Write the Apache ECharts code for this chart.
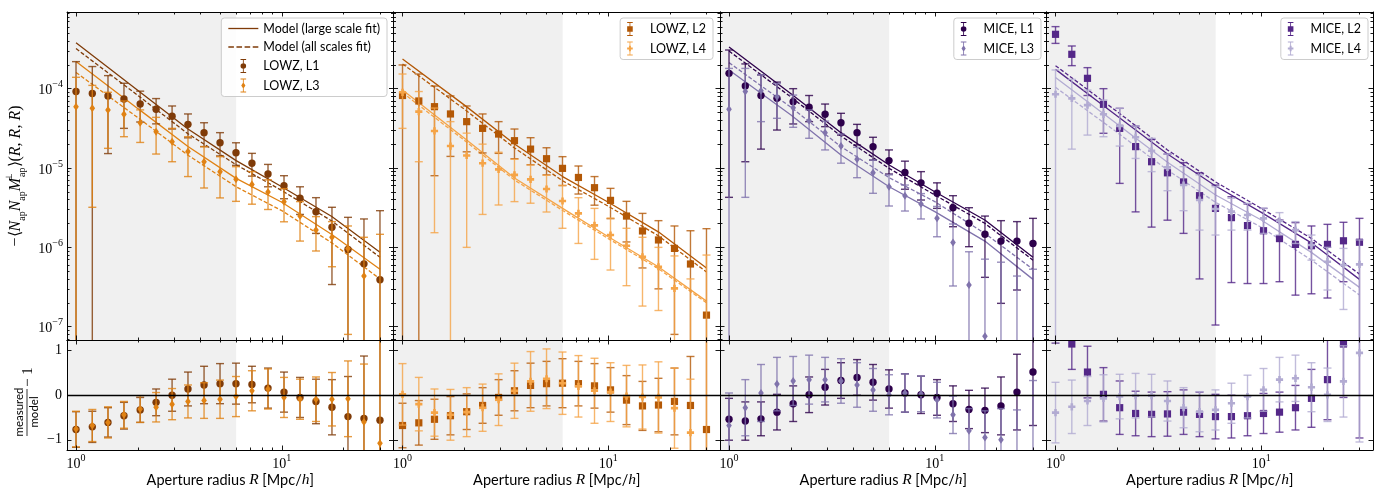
<!DOCTYPE html>
<html>
<head>
<meta charset="utf-8">
<script src="https://cdn.jsdelivr.net/npm/echarts@6/dist/echarts.min.js"></script>
<style>
  html, body { margin: 0; padding: 0; background: #fff; }
  #chart { width: 1385px; height: 492px; }
</style>
</head>
<body>
<div id="chart"></div>
<script>
// aperture radii (Mpc/h) of the measurements, and where the model curves are read
const radius = [1.00, 1.20, 1.43, 1.71, 2.05, 2.45, 2.93, 3.50, 4.19, 5.01, 5.99, 7.16, 8.57, 10.25, 12.26, 14.66, 17.53, 20.97, 25.08, 30.0];
const modelRadius = [1, 2, 3.5, 6, 10, 17.5, 30];

// LOWZ L1
const lowzL1 = [9.2e-5, 8.7e-5, 8.1e-5, 7.4e-5, 6.4e-5, 5.5e-5, 4.5e-5, 3.55e-5, 2.79e-5, 2.08e-5, 1.56e-5, 1.15e-5, 8.4e-6, 5.98e-6, 4.15e-6, 2.82e-6, 1.79e-6, 9.4e-7, 6.2e-7, 3.9e-7];
const lowzL1Hi = [2.19e-4, 1.9e-4, 1.46e-4, 1.17e-4, 9.3e-5, 7.5e-5, 6.05e-5, 4.8e-5, 3.72e-5, 2.79e-5, 2.08e-5, 1.53e-5, 1.11e-5, 8.0e-6, 5.8e-6, 4.23e-6, 3.2e-6, 2.39e-6, 2.28e-6, 2.9e-6];
const lowzL1Lo = [null, null, 1.52e-5, 3.16e-5, 3.8e-5, 3.6e-5, 3.1e-5, 2.4e-5, 1.86e-5, 1.42e-5, 1.08e-5, 7.9e-6, 5.8e-6, 4.1e-6, 2.6e-6, 1.5e-6, 3.4e-7, null, null, null];
const lowzL1Ratio = [-0.77, -0.71, -0.61, -0.46, -0.33, -0.16, 0.0, 0.14, 0.23, 0.26, 0.26, 0.24, 0.16, 0.07, -0.05, -0.14, -0.27, -0.48, -0.52, -0.56];
const lowzL1RatioErr = [0.4, 0.35, 0.33, 0.3, 0.28, 0.3, 0.36, 0.38, 0.42, 0.45, 0.46, 0.41, 0.45, 0.45, 0.45, 0.5, 0.62, 0.9, 1.4, 2.0];
const lowzL1ModelLarge = [3.8e-4, 9.5e-5, 3.1e-5, 1.24e-5, 5.8e-6, 2.45e-6, 8.7e-7];
const lowzL1ModelAll = [3.2e-4, 8.2e-5, 2.7e-5, 1.1e-5, 5.2e-6, 2.15e-6, 7.5e-7];

// LOWZ L3
const lowzL3 = [5.9e-5, 5.65e-5, 5.4e-5, 4.75e-5, 3.72e-5, 2.87e-5, 2.15e-5, 1.61e-5, 1.2e-5, 9.0e-6, 7.2e-6, 6.2e-6, 5.0e-6, 3.77e-6, 2.48e-6, 1.65e-6, 1.34e-6, 9.7e-7, 4.35e-7, null];
const lowzL3Hi = [1.39e-4, 1.1e-4, 9.0e-5, 7.0e-5, 5.4e-5, 4.35e-5, 3.16e-5, 2.48e-5, 1.86e-5, 1.39e-5, 1.04e-5, 9.0e-6, 7.1e-6, 5.5e-6, 3.77e-6, 2.44e-6, 2.11e-6, 1.86e-6, 1.34e-6, 1.46e-6];
const lowzL3Lo = [null, 3.2e-6, 1.77e-5, 2.48e-5, 2.1e-5, 1.5e-5, 1.2e-5, 7.8e-6, 5.6e-6, 4.2e-6, 3.8e-6, 3.5e-6, 3.0e-6, 2.1e-6, 1.2e-6, 9e-7, 5.7e-7, 8e-8, null, null];
const lowzL3Ratio = [-0.76, -0.68, -0.61, -0.44, -0.31, -0.27, -0.2, -0.14, -0.12, -0.09, -0.03, 0.1, 0.14, -0.05, -0.09, -0.09, -0.09, -0.08, -0.6, -1.08];
const lowzL3RatioErr = [0.4, 0.36, 0.35, 0.3, 0.3, 0.33, 0.35, 0.37, 0.4, 0.43, 0.45, 0.45, 0.45, 0.45, 0.45, 0.5, 0.6, 0.85, 1.3, 2.9];
const lowzL3ModelLarge = [2.2e-4, 5.6e-5, 1.87e-5, 7.4e-6, 3.7e-6, 1.45e-6, 5.3e-7];
const lowzL3ModelAll = [1.6e-4, 4.3e-5, 1.45e-5, 5.8e-6, 2.9e-6, 1.14e-6, 4.0e-7];

// LOWZ L2
const lowzL2 = [8.2e-5, 7.0e-5, 5.93e-5, 4.8e-5, 3.84e-5, 3.16e-5, 2.68e-5, 2.21e-5, 1.73e-5, 1.31e-5, 9.9e-6, 7.6e-6, 5.65e-6, 3.91e-6, 2.48e-6, 1.61e-6, 1.24e-6, 9.7e-7, 6.17e-7, 1.4e-7];
const lowzL2Hi = [1.99e-4, 1.53e-4, 1.08e-4, 8.1e-5, 6.05e-5, 4.8e-5, 3.84e-5, 3.1e-5, 2.41e-5, 1.8e-5, 1.39e-5, 1.06e-5, 7.8e-6, 5.54e-6, 3.8e-6, 2.68e-6, 2.17e-6, 1.86e-6, 1.62e-6, 1.72e-6];
const lowzL2Lo = [null, null, 8e-6, 1.4e-5, 1.6e-5, 1.55e-5, 1.53e-5, 1.31e-5, 1.1e-5, 8.2e-6, 6e-6, 4.7e-6, 3.4e-6, 2.3e-6, 1.17e-6, 5.5e-7, 3e-7, 8e-8, null, null];
const lowzL2Ratio = [-0.68, -0.62, -0.54, -0.46, -0.37, -0.23, -0.05, 0.1, 0.22, 0.26, 0.27, 0.26, 0.21, 0.12, -0.11, -0.24, -0.22, -0.14, -0.23, -0.77];
const lowzL2RatioErr = [0.5, 0.5, 0.45, 0.43, 0.4, 0.4, 0.4, 0.45, 0.5, 0.5, 0.55, 0.5, 0.5, 0.5, 0.55, 0.55, 0.6, 0.75, 1.1, 2.8];
const lowzL2ModelLarge = [2.37e-4, 6.2e-5, 2.01e-5, 7.8e-6, 3.7e-6, 1.57e-6, 5.5e-7];
const lowzL2ModelAll = [2.05e-4, 5.5e-5, 1.79e-5, 6.9e-6, 3.3e-6, 1.4e-6, 4.9e-7];

// LOWZ L4
const lowzL4 = [9.0e-5, 5.13e-5, 2.93e-5, 1.89e-5, 1.44e-5, 1.15e-5, 9.6e-6, 8.2e-6, 7.2e-6, 5.44e-6, 3.84e-6, 2.68e-6, 1.89e-6, 1.43e-6, 1.05e-6, 7.6e-7, 5.7e-7, 3.04e-7, 4.5e-8, null];
const lowzL4Hi = [1.53e-4, 9.2e-5, 5.7e-5, 3.84e-5, 2.75e-5, 2.0e-5, 1.58e-5, 1.29e-5, 1.09e-5, 8.1e-6, 6.05e-6, 4.23e-6, 3.1e-6, 2.34e-6, 1.74e-6, 1.34e-6, 1.0e-6, 7.8e-7, 4.0e-7, 8.0e-7];
const lowzL4Lo = [3.16e-5, 1.2e-5, 1.53e-6, null, 1.0e-6, 2.6e-6, 3.42e-6, 3.77e-6, 3.6e-6, 2.79e-6, 1.74e-6, 1.12e-6, 7.06e-7, 5.18e-7, 3.29e-7, 1.82e-7, 1.6e-7, null, null, null];
const lowzL4Ratio = [0.02, -0.2, -0.39, -0.44, -0.38, -0.28, -0.1, 0.1, 0.31, 0.37, 0.27, 0.2, 0.1, 0.07, -0.02, -0.04, -0.05, -0.29, -0.84, -1.6];
const lowzL4RatioErr = [0.69, 0.6, 0.53, 0.57, 0.55, 0.53, 0.58, 0.62, 0.67, 0.67, 0.7, 0.69, 0.73, 0.66, 0.69, 0.72, 0.8, 0.9, 1.2, 3.0];
const lowzL4ModelLarge = [9.6e-5, 2.37e-5, 7.5e-6, 3.1e-6, 1.36e-6, 5.7e-7, 2.1e-7];
const lowzL4ModelAll = [8.9e-5, 2.23e-5, 7.06e-6, 2.92e-6, 1.29e-6, 5.4e-7, 2.0e-7];

// MICE L1
const miceL1 = [1.56e-4, 1.08e-4, 8.2e-5, 7.55e-5, 6.86e-5, 5.82e-5, 4.75e-5, 3.72e-5, 2.79e-5, 1.86e-5, 1.24e-5, 8.8e-6, 6.5e-6, 4.8e-6, 3.16e-6, 2.01e-6, 1.46e-6, 1.2e-6, 1.2e-6, 1.12e-6];
const miceL1Hi = [3.07e-4, 2.05e-4, 1.49e-4, 1.21e-4, 1.0e-4, 8.2e-5, 6.4e-5, 4.89e-5, 3.55e-5, 2.44e-5, 1.69e-5, 1.22e-5, 9.0e-6, 6.5e-6, 4.48e-6, 3.16e-6, 2.48e-6, 2.17e-6, 2.11e-6, 2.32e-6];
const miceL1Lo = [4.27e-6, 1.2e-5, 1.73e-5, 3.01e-5, 3.59e-5, 3.84e-5, 3.32e-5, 2.6e-5, 1.95e-5, 1.26e-5, 8.4e-6, 5.4e-6, 3.95e-6, 3.1e-6, 1.82e-6, 1.02e-6, 4.19e-7, 1.97e-7, 2.9e-7, null];
const miceL1Ratio = [-0.54, -0.58, -0.53, -0.38, -0.19, 0.01, 0.18, 0.33, 0.4, 0.29, 0.14, 0.05, 0.01, -0.05, -0.19, -0.32, -0.34, -0.24, 0.07, 0.52];
const miceL1RatioErr = [0.47, 0.43, 0.38, 0.4, 0.4, 0.4, 0.4, 0.4, 0.4, 0.4, 0.43, 0.43, 0.42, 0.4, 0.4, 0.43, 0.5, 0.65, 0.85, 1.2];
const miceL1ModelLarge = [3.35e-4, 8.65e-5, 2.79e-5, 1.09e-5, 5.03e-6, 2.21e-6, 7.5e-7];
const miceL1ModelAll = [2.98e-4, 7.85e-5, 2.53e-5, 9.9e-6, 4.57e-6, 2.01e-6, 6.9e-7];

// MICE L3
const miceL3 = [5.5e-5, 9.2e-5, 9.4e-5, 7.9e-5, 5.76e-5, 3.95e-5, 2.79e-5, 1.89e-5, 1.29e-5, 8.7e-6, 5.8e-6, 4.48e-6, 3.52e-6, 2.32e-6, 1.15e-6, 3.35e-7, 7.6e-8, null, null, null];
const miceL3Hi = [1.8e-4, 1.8e-4, 1.5e-4, 1.16e-4, 8.3e-5, 5.4e-5, 3.9e-5, 2.68e-5, 1.82e-5, 1.26e-5, 8.2e-6, 6.1e-6, 4.76e-6, 3.28e-6, 1.97e-6, 8.8e-7, 7.1e-7, 6.5e-7, 4.35e-7, 5.3e-7];
const miceL3Lo = [null, 4.27e-6, 3.84e-5, 4.23e-5, 3.26e-5, 2.37e-5, 1.69e-5, 1.15e-5, 7.55e-6, 4.8e-6, 3.32e-6, 2.87e-6, 2.28e-6, 1.36e-6, 3.26e-7, null, null, null, null, null];
const miceL3Ratio = [-0.68, -0.28, 0.05, 0.25, 0.32, 0.35, 0.35, 0.32, 0.23, 0.12, 0.01, 0.05, 0.03, -0.11, -0.44, -0.8, -0.95, -1.0, -1.4, -1.5];
const miceL3RatioErr = [0.73, 0.63, 0.64, 0.6, 0.55, 0.55, 0.5, 0.5, 0.5, 0.48, 0.45, 0.43, 0.4, 0.4, 0.42, 0.5, 0.6, 0.7, 1.07, 1.83];
const miceL3ModelLarge = [1.72e-4, 4.66e-5, 1.46e-5, 5.8e-6, 2.82e-6, 1.2e-6, 3.95e-7];
const miceL3ModelAll = [2.13e-4, 5.82e-5, 1.86e-5, 7.55e-6, 3.77e-6, 1.5e-6, 5.3e-7];

// MICE L2
const miceL2 = [4.84e-4, 2.71e-4, 1.35e-4, 6.35e-5, 3.16e-5, 1.86e-5, 1.2e-5, 8.7e-6, 6.67e-6, 4.48e-6, 3.1e-6, 2.37e-6, 1.88e-6, 1.62e-6, 1.29e-6, 1.09e-6, 1.05e-6, 1.09e-6, 1.21e-6, 1.16e-6];
const miceL2Hi = [6.05e-4, 3.45e-4, 1.84e-4, 1.0e-4, 5.65e-5, 3.38e-5, 2.3e-5, 1.5e-5, 1.17e-5, 8.7e-6, 6.1e-6, 4.35e-6, 3.52e-6, 3.1e-6, 2.21e-6, 2.05e-6, 1.86e-6, 1.95e-6, 2.07e-6, 2.32e-6];
const miceL2Lo = [3.72e-4, 1.95e-4, 8.2e-5, 2.74e-5, 6.4e-6, 2.8e-6, 1.8e-6, 2.2e-6, 1.5e-6, 4e-7, 1.05e-7, 3.6e-7, 3.5e-7, 3.5e-7, 3.69e-7, 2.5e-7, 2.6e-7, 2.3e-7, 3.69e-7, null];
const miceL2Ratio = [1.8, 1.15, 0.52, 0.02, -0.28, -0.41, -0.43, -0.42, -0.38, -0.43, -0.48, -0.48, -0.46, -0.41, -0.38, -0.28, -0.07, 0.35, 1.15, 1.94];
const miceL2RatioErr = [0.63, 0.57, 0.58, 0.6, 0.6, 0.5, 0.5, 0.5, 0.5, 0.5, 0.5, 0.48, 0.45, 0.45, 0.45, 0.5, 0.65, 0.9, 1.2, 2.9];
const miceL2ModelLarge = [1.75e-4, 4.5e-5, 1.5e-5, 5.93e-6, 2.76e-6, 1.14e-6, 3.95e-7];
const miceL2ModelAll = [1.95e-4, 5.1e-5, 1.69e-5, 6.67e-6, 3.1e-6, 1.3e-6, 4.6e-7];

// MICE L4
const miceL4 = [8.5e-5, 7.55e-5, 6.2e-5, 4.75e-5, 3.38e-5, 2.44e-5, 1.65e-5, 1.02e-5, 6.1e-6, 3.95e-6, 3.04e-6, 2.82e-6, 2.56e-6, 2.32e-6, 2.15e-6, 1.65e-6, 1.07e-6, 6.6e-7, 5.99e-7, 6.1e-7];
const miceL4Hi = [1.72e-4, 1.31e-4, 9.6e-5, 7.2e-5, 5.65e-5, 3.38e-5, 2.37e-5, 1.5e-5, 1.04e-5, 8.2e-6, 5.8e-6, 4.15e-6, 3.59e-6, 3.1e-6, 2.74e-6, 2.11e-6, 1.43e-6, 1.0e-6, 9.7e-7, 1.24e-6];
const miceL4Lo = [null, 1.73e-5, 2.6e-5, 2.48e-5, 1.89e-5, 1.32e-5, 9.0e-6, 5.18e-6, 2.9e-6, 1.65e-6, 1.43e-6, 1.65e-6, 1.65e-6, 1.5e-6, 1.43e-6, 1.12e-6, 6.9e-7, 2.9e-7, 1.65e-7, null];
const miceL4Ratio = [-0.39, -0.26, -0.13, -0.07, -0.03, -0.01, -0.01, -0.13, -0.28, -0.37, -0.33, -0.18, -0.03, 0.12, 0.35, 0.38, 0.18, 0.01, 0.31, 0.95];
const miceL4RatioErr = [0.68, 0.6, 0.55, 0.53, 0.5, 0.5, 0.48, 0.45, 0.45, 0.45, 0.45, 0.45, 0.48, 0.48, 0.5, 0.52, 0.55, 0.6, 0.8, 2.0];
const miceL4ModelLarge = [1.38e-4, 3.55e-5, 1.18e-5, 4.57e-6, 2.21e-6, 8.65e-7, 3.13e-7];
const miceL4ModelAll = [1.04e-4, 2.79e-5, 9.44e-6, 3.69e-6, 1.79e-6, 6.92e-7, 2.51e-7];

// tick positions
const xMajorTicks = [1, 10];
const xMinorTicks = [2, 3, 4, 5, 6, 7, 8, 9, 20, 30];
const yMajorTicks = [1e-7, 1e-6, 1e-5, 1e-4];
const ratioTicks = [-1, 0, 1];

const X_MIN = 0.904, X_MAX = 34.9;
const Y_MIN = 6.8e-8, Y_MAX = 9.25e-4;
const R_MIN = -1.23, R_MAX = 1.24;
const SHADE_END = 6;

const yMinorTicks = [];
for (let e = -8; e <= -4; e++) {
  for (let m = 2; m <= 9; m++) {
    const v = m * Math.pow(10, e);
    if (v > Y_MIN && v < Y_MAX) yMinorTicks.push(v);
  }
}

const SERIF = 'Liberation Serif';
const SANS = 'Lato';
const COL_LEFT = [67, 393.5, 720, 1046.5];
const COL_W = 326.5;
const ROWS = [{ top: 12, height: 328 }, { top: 340, height: 110 }];

const ICON_BAR = 'M9.4,0H10.6V20H9.4Z M6,0H14V1.3H6Z M6,18.7H14V20H6Z ';
const ICONS = {
  circle: 'path://' + ICON_BAR + 'M6,10A4,4,0,1,1,14,10A4,4,0,1,1,6,10Z',
  square: 'path://' + ICON_BAR + 'M6,6H14V14H6Z',
  thin: 'path://' + ICON_BAR + 'M10,5.5L13,10L10,14.5L7,10Z',
  plus: 'path://' + ICON_BAR + 'M8.6,6H11.4V8.6H14V11.4H11.4V14H8.6V11.4H6V8.6H8.6Z',
  solid: 'path://M0,0H30V1.3H0Z',
  dashed: 'path://M0,0H5.5V1.3H0Z M8,0H13.5V1.3H8Z M16,0H21.5V1.3H16Z M24,0H29.5V1.3H24Z'
};

const panels = [
  { legendRight: 998, sets: [
    { name: 'LOWZ, L1', color: '#7f3b08', marker: 'circle', val: lowzL1, lo: lowzL1Lo, hi: lowzL1Hi, ratio: lowzL1Ratio, ratioErr: lowzL1RatioErr, large: lowzL1ModelLarge, all: lowzL1ModelAll },
    { name: 'LOWZ, L3', color: '#e08214', marker: 'thin', val: lowzL3, lo: lowzL3Lo, hi: lowzL3Hi, ratio: lowzL3Ratio, ratioErr: lowzL3RatioErr, large: lowzL3ModelLarge, all: lowzL3ModelAll }
  ] },
  { legendRight: 672, sets: [
    { name: 'LOWZ, L2', color: '#b35806', marker: 'square', val: lowzL2, lo: lowzL2Lo, hi: lowzL2Hi, ratio: lowzL2Ratio, ratioErr: lowzL2RatioErr, large: lowzL2ModelLarge, all: lowzL2ModelAll },
    { name: 'LOWZ, L4', color: '#f5a447', marker: 'plus', val: lowzL4, lo: lowzL4Lo, hi: lowzL4Hi, ratio: lowzL4Ratio, ratioErr: lowzL4RatioErr, large: lowzL4ModelLarge, all: lowzL4ModelAll }
  ] },
  { legendRight: 344, sets: [
    { name: 'MICE, L1', color: '#2d004b', marker: 'circle', val: miceL1, lo: miceL1Lo, hi: miceL1Hi, ratio: miceL1Ratio, ratioErr: miceL1RatioErr, large: miceL1ModelLarge, all: miceL1ModelAll },
    { name: 'MICE, L3', color: '#8073ac', marker: 'thin', val: miceL3, lo: miceL3Lo, hi: miceL3Hi, ratio: miceL3Ratio, ratioErr: miceL3RatioErr, large: miceL3ModelLarge, all: miceL3ModelAll }
  ] },
  { legendRight: 17, sets: [
    { name: 'MICE, L2', color: '#542788', marker: 'square', val: miceL2, lo: miceL2Lo, hi: miceL2Hi, ratio: miceL2Ratio, ratioErr: miceL2RatioErr, large: miceL2ModelLarge, all: miceL2ModelAll },
    { name: 'MICE, L4', color: '#b2abd2', marker: 'plus', val: miceL4, lo: miceL4Lo, hi: miceL4Hi, ratio: miceL4Ratio, ratioErr: miceL4RatioErr, large: miceL4ModelLarge, all: miceL4ModelAll }
  ] }
];

function powLabel(v) {
  const e = Math.round(Math.log10(v));
  return '{b|10}{e|' + (e < 0 ? '\u2212' + (-e) : e) + '}';
}
const powRich = {
  b: { fontFamily: SERIF, fontSize: 14, color: '#000', lineHeight: 18, verticalAlign: 'bottom' },
  e: { fontFamily: SERIF, fontSize: 10, color: '#000', lineHeight: 10, verticalAlign: 'top' }
};

const tickStyle = { color: '#000', width: 0.9 };
const grids = [], xAxes = [], yAxes = [];

// 4 x axes and 4 y axes per grid: major/minor ticks on each side
function addGrid(row, col) {
  const gridIndex = grids.length;
  grids.push({ left: COL_LEFT[col], width: COL_W, top: ROWS[row].top, height: ROWS[row].height, show: false });
  const isTop = row === 0;
  ['bottom', 'top'].forEach(pos => {
    const withLabel = pos === 'bottom' && !isTop;
    const base = { type: 'log', logBase: 10, gridIndex, position: pos, min: X_MIN, max: X_MAX, z: 10, splitLine: { show: false } };
    xAxes.push(Object.assign({}, base, {
      axisLine: { show: true, onZero: false, lineStyle: { color: '#000', width: 1 } },
      axisTick: { show: true, inside: true, length: 4.5, customValues: xMajorTicks, lineStyle: tickStyle },
      axisLabel: withLabel
        ? { show: true, customValues: xMajorTicks, formatter: powLabel, rich: powRich, margin: 3 }
        : { show: false },
      name: withLabel ? '{t|Aperture radius }{i|R}{t| [Mpc/}{i|h}{t|]}' : '',
      nameLocation: 'middle',
      nameGap: 20,
      nameTextStyle: {
        rich: {
          t: { fontFamily: SANS, fontSize: 14.5, color: '#000' },
          i: { fontFamily: SERIF, fontStyle: 'italic', fontSize: 15.5, color: '#000' }
        }
      }
    }));
    xAxes.push(Object.assign({}, base, {
      axisLine: { show: false, onZero: false },
      axisTick: { show: true, inside: true, length: 2.5, customValues: xMinorTicks, lineStyle: tickStyle },
      axisLabel: { show: false }
    }));
  });
  ['left', 'right'].forEach(pos => {
    const withLabel = pos === 'left' && col === 0;
    const base = isTop
      ? { type: 'log', logBase: 10, min: Y_MIN, max: Y_MAX }
      : { type: 'value', min: R_MIN, max: R_MAX };
    Object.assign(base, { gridIndex, position: pos, z: 10, splitLine: { show: false } });
    let label = { show: false };
    if (withLabel) {
      label = isTop
        ? { show: true, customValues: yMajorTicks, formatter: powLabel, rich: powRich, margin: 4 }
        : { show: true, customValues: ratioTicks, margin: 5, fontFamily: SERIF, fontSize: 14, color: '#000',
            formatter: v => (v < 0 ? '\u2212' + (-v) : String(v)) };
    }
    yAxes.push(Object.assign({}, base, {
      axisLine: { show: true, onZero: false, lineStyle: { color: '#000', width: 1 } },
      axisTick: { show: true, inside: true, length: 4.5, customValues: isTop ? yMajorTicks : ratioTicks, lineStyle: tickStyle },
      axisLabel: label
    }));
    yAxes.push(Object.assign({}, base, {
      axisLine: { show: false, onZero: false },
      axisTick: isTop
        ? { show: true, inside: true, length: 2.5, customValues: yMinorTicks, lineStyle: tickStyle }
        : { show: false },
      axisLabel: { show: false }
    }));
  });
  return gridIndex;
}

function markerShape(marker, x, y, color) {
  const style = { fill: color };
  if (marker === 'circle') return { type: 'circle', shape: { cx: x, cy: y, r: 3.7 }, style };
  if (marker === 'square') return { type: 'rect', shape: { x: x - 3.6, y: y - 3.6, width: 7.2, height: 7.2 }, style };
  if (marker === 'thin') return { type: 'polygon', shape: { points: [[x, y - 4], [x + 2.8, y], [x, y + 4], [x - 2.8, y]] }, style };
  const a = 3.6, t = 1.3;
  return { type: 'polygon', style, shape: { points: [
    [x - t, y - a], [x + t, y - a], [x + t, y - t], [x + a, y - t], [x + a, y + t], [x + t, y + t],
    [x + t, y + a], [x - t, y + a], [x - t, y + t], [x - a, y + t], [x - a, y - t], [x - t, y - t]] } };
}

function errorBarRenderer(marker, color, isRatio) {
  return function (params, api) {
    const cs = params.coordSys;
    const r = api.value(0);
    let v, lo, hi;
    if (isRatio) {
      v = api.value(1);
      const e = api.value(2);
      lo = v - e;
      hi = v + e;
    } else {
      lo = api.value(1);
      hi = api.value(2);
      v = api.value(3);
    }
    const ok = n => n != null && isFinite(n) && (isRatio || n > 0);
    const x = api.coord([r, isRatio ? 0 : 1e-5])[0];
    const yLo = ok(lo) ? api.coord([r, lo])[1] : cs.y + cs.height + 6;
    const yHi = ok(hi) ? api.coord([r, hi])[1] : cs.y - 6;
    const bar = { stroke: color, lineWidth: 1.4, opacity: 0.8 };
    const children = [
      { type: 'line', shape: { x1: x, y1: yLo, x2: x, y2: yHi }, style: bar },
      { type: 'line', shape: { x1: x - 4, y1: yLo, x2: x + 4, y2: yLo }, style: bar },
      { type: 'line', shape: { x1: x - 4, y1: yHi, x2: x + 4, y2: yHi }, style: bar }
    ];
    if (ok(v)) children.push(markerShape(marker, x, api.coord([r, v])[1], color));
    return { type: 'group', children };
  };
}

const series = [];
const legends = [];

panels.forEach((panel, col) => {
  const gTop = addGrid(0, col);
  const gBot = addGrid(1, col);
  const topAxes = { xAxisIndex: gTop * 4, yAxisIndex: gTop * 4 };
  const botAxes = { xAxisIndex: gBot * 4, yAxisIndex: gBot * 4 };
  const shade = {
    silent: true,
    itemStyle: { color: '#f0f0f0' },
    data: [[{ xAxis: X_MIN }, { xAxis: SHADE_END }]]
  };

  series.push(Object.assign({ type: 'line', name: 'shade' + col, data: [], silent: true, markArea: shade }, topAxes));
  series.push(Object.assign({
    type: 'line', name: 'shadeRatio' + col, data: [], silent: true, markArea: shade,
    markLine: {
      silent: true, symbol: ['none', 'none'], label: { show: false },
      lineStyle: { color: '#000', width: 1.3, type: 'solid' },
      data: [{ yAxis: 0 }]
    }
  }, botAxes));

  panel.sets.forEach((set, k) => {
    const legendNames = col === 0 && k === 0;
    [['large', 'solid', 'Model (large scale fit)'], ['all', [4, 2], 'Model (all scales fit)']].forEach(([key, dash, label]) => {
      series.push(Object.assign({
        type: 'line',
        name: legendNames ? label : set.name + ' ' + key,
        data: modelRadius.map((r, i) => [r, set[key][i]]),
        symbol: 'none', showSymbol: false, smooth: false, silent: true,
        lineStyle: { color: set.color, width: 1.3, type: dash },
        itemStyle: { color: set.color },
        z: 2
      }, topAxes));
    });
  });

  panel.sets.forEach(set => {
    series.push(Object.assign({
      type: 'custom', name: set.name, clip: true, silent: true, z: 3,
      itemStyle: { color: set.color },
      encode: { x: 0, y: 2 },
      renderItem: errorBarRenderer(set.marker, set.color, false),
      data: radius.map((r, i) => [r, set.lo[i], set.hi[i], set.val[i]])
    }, topAxes));
    series.push(Object.assign({
      type: 'custom', name: set.name + ' ratio', clip: true, silent: true, z: 3,
      itemStyle: { color: set.color },
      encode: { x: 0, y: 1 },
      renderItem: errorBarRenderer(set.marker, set.color, true),
      data: radius.map((r, i) => [r, set.ratio[i], set.ratioErr[i]])
    }, botAxes));
  });

  const legendData = [];
  if (col === 0) {
    legendData.push({ name: 'Model (large scale fit)', icon: ICONS.solid }, { name: 'Model (all scales fit)', icon: ICONS.dashed });
  }
  panel.sets.forEach(set => legendData.push({ name: set.name, icon: ICONS[set.marker] }));
  legends.push({
    orient: 'vertical', right: panel.legendRight, top: 18,
    data: legendData, selectedMode: false,
    itemWidth: 30, itemHeight: 14, itemGap: 5.5,
    backgroundColor: 'rgba(255,255,255,0.85)', borderColor: '#cccccc', borderWidth: 1, borderRadius: 3,
    padding: [4, 7, 4, 7],
    textStyle: { fontFamily: SANS, fontSize: 12.5, color: '#000' }
  });
});

const graphic = [
  {
    type: 'text', x: 16, y: 176, rotation: Math.PI / 2,
    style: {
      text: '{n|\u2212\u27e8}{i|N}{s|ap}{i|N}{s|ap}{i|M}{p|\u22a5}{s|ap}{n|\u27e9(}{i|R}{n|, }{i|R}{n|, }{i|R}{n|)}',
      align: 'center', verticalAlign: 'middle',
      rich: {
        n: { fontFamily: SERIF, fontSize: 16, lineHeight: 22, fill: '#000' },
        i: { fontFamily: SERIF, fontStyle: 'italic', fontSize: 16, lineHeight: 22, fill: '#000' },
        s: { fontFamily: SERIF, fontSize: 10, lineHeight: 10, verticalAlign: 'bottom', fill: '#000' },
        p: { fontFamily: SERIF, fontSize: 9, lineHeight: 10, verticalAlign: 'top', width: 1, fill: '#000' }
      }
    }
  },
  {
    type: 'group', x: 27, y: 396, rotation: Math.PI / 2,
    children: [
      { type: 'text', x: -16, y: -1.5, style: { text: 'measured', fontFamily: SANS, fontSize: 11.5, fill: '#000', align: 'center', textAlign: 'center', verticalAlign: 'bottom', textVerticalAlign: 'bottom' } },
      { type: 'line', shape: { x1: -40, y1: 0, x2: 7, y2: 0 }, style: { stroke: '#000', lineWidth: 0.8 } },
      { type: 'text', x: -16, y: 1, style: { text: 'model', fontFamily: SANS, fontSize: 11.5, fill: '#000', align: 'center', textAlign: 'center', verticalAlign: 'top', textVerticalAlign: 'top' } },
      { type: 'text', x: 9, y: 1.5, style: { text: '\u2212 1', fontFamily: SERIF, fontSize: 15, fill: '#000', align: 'left', textAlign: 'left', verticalAlign: 'middle', textVerticalAlign: 'middle' } }
    ]
  }
];

const chart = echarts.init(document.getElementById('chart'));
chart.setOption({
  animation: false,
  backgroundColor: '#fff',
  grid: grids,
  xAxis: xAxes,
  yAxis: yAxes,
  legend: legends,
  graphic,
  series
});
</script>
</body>
</html>
